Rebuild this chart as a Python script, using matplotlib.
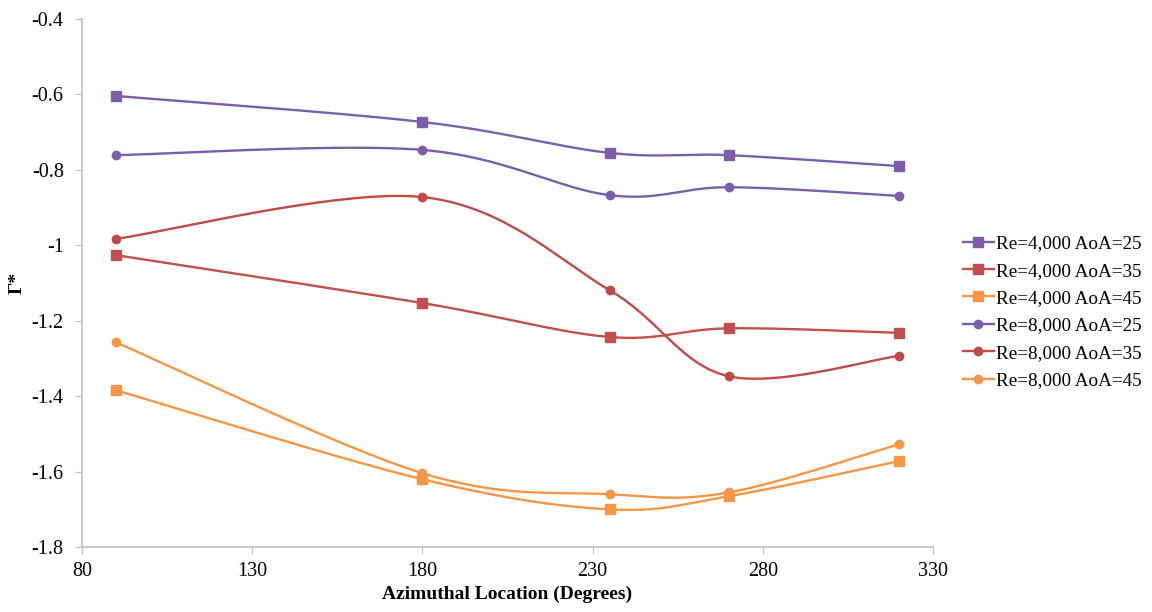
import numpy as np
import matplotlib
matplotlib.use("Agg")
import matplotlib.pyplot as plt

plt.rcParams['font.family'] = ['Liberation Serif', 'DejaVu Serif']

# azimuthal locations (degrees)
azimuth = [90, 180, 235, 270, 320]

# Gamma* values
re4000_aoa25 = [-0.604, -0.673, -0.755, -0.761, -0.790]
re4000_aoa35 = [-1.026, -1.153, -1.243, -1.220, -1.232]
re4000_aoa45 = [-1.384, -1.620, -1.700, -1.665, -1.572]
re8000_aoa25 = [-0.761, -0.747, -0.867, -0.846, -0.869]
re8000_aoa35 = [-0.983, -0.872, -1.119, -1.347, -1.293]
re8000_aoa45 = [-1.257, -1.604, -1.660, -1.655, -1.527]

labels = ['Re=4,000 AoA=25', 'Re=4,000 AoA=35', 'Re=4,000 AoA=45',
          'Re=8,000 AoA=25', 'Re=8,000 AoA=35', 'Re=8,000 AoA=45']
series = [re4000_aoa25, re4000_aoa35, re4000_aoa45,
          re8000_aoa25, re8000_aoa35, re8000_aoa45]
colors = ['#7B5EA7', '#C0504D', '#F79646', '#7B5EA7', '#BE4B48', '#F79646']
markers = ['s', 's', 's', 'o', 'o', 'o']
msizes = [7, 7, 7, 6, 6, 6]


def smooth(x, y, n=40):
    # Excel-style smoothed line: cubic bezier with catmull-rom control points
    x = np.asarray(x, float)
    y = np.asarray(y, float)
    px = np.concatenate([[x[0]], x, [x[-1]]])
    py = np.concatenate([[y[0]], y, [y[-1]]])
    xs, ys = [], []
    t = np.linspace(0, 1, n)
    for i in range(1, len(px) - 2):
        p0 = np.array([px[i], py[i]])
        p3 = np.array([px[i + 1], py[i + 1]])
        c1 = p0 + (np.array([px[i + 1], py[i + 1]]) - np.array([px[i - 1], py[i - 1]])) / 6
        c2 = p3 - (np.array([px[i + 2], py[i + 2]]) - np.array([px[i], py[i]])) / 6
        b = ((1 - t) ** 3)[:, None] * p0 + (3 * (1 - t) ** 2 * t)[:, None] * c1 \
            + (3 * (1 - t) * t ** 2)[:, None] * c2 + (t ** 3)[:, None] * p3
        xs.extend(b[:, 0])
        ys.extend(b[:, 1])
    return xs, ys


fig = plt.figure(figsize=(11.52, 6.12), dpi=100)
ax = fig.add_axes([0.071, 0.106, 0.739, 0.863])

for vals, lab, c, m, ms in zip(series, labels, colors, markers, msizes):
    sx, sy = smooth(azimuth, vals)
    ax.plot(sx, sy, color=c, lw=1.7)
    ax.plot(azimuth, vals, linestyle='none', marker=m, ms=ms, color=c)
    ax.plot([], [], color=c, lw=1.7, marker=m, ms=ms, label=lab)

ax.set_xlim(80, 330)
ax.set_ylim(-1.8, -0.4)
ax.set_xticks(np.arange(80, 331, 50))
ax.set_yticks(np.arange(-1.8, -0.39, 0.2))
ax.set_yticklabels(['-1.8', '-1.6', '-1.4', '-1.2', '-1', '-0.8', '-0.6', '-0.4'])

for s in ['top', 'right']:
    ax.spines[s].set_visible(False)
for s in ['left', 'bottom']:
    ax.spines[s].set_color('#BFBFBF')
    ax.spines[s].set_linewidth(1.2)
ax.tick_params(axis='both', direction='out', length=5, color='#BFBFBF',
               labelsize=14.5)
ax.tick_params(axis='x', pad=6)
ax.tick_params(axis='y', pad=8)

ax.set_xlabel('Azimuthal Location (Degrees)', fontsize=14, fontweight='bold',
              labelpad=3)
ax.set_ylabel('Γ*', fontsize=14, fontweight='bold', labelpad=4)

ax.legend(loc='center left', bbox_to_anchor=(1.015, 0.445), frameon=False,
          fontsize=13.8, handlelength=1.6, handletextpad=0.1,
          labelspacing=0.52)

fig.savefig('out.png', dpi=100)
